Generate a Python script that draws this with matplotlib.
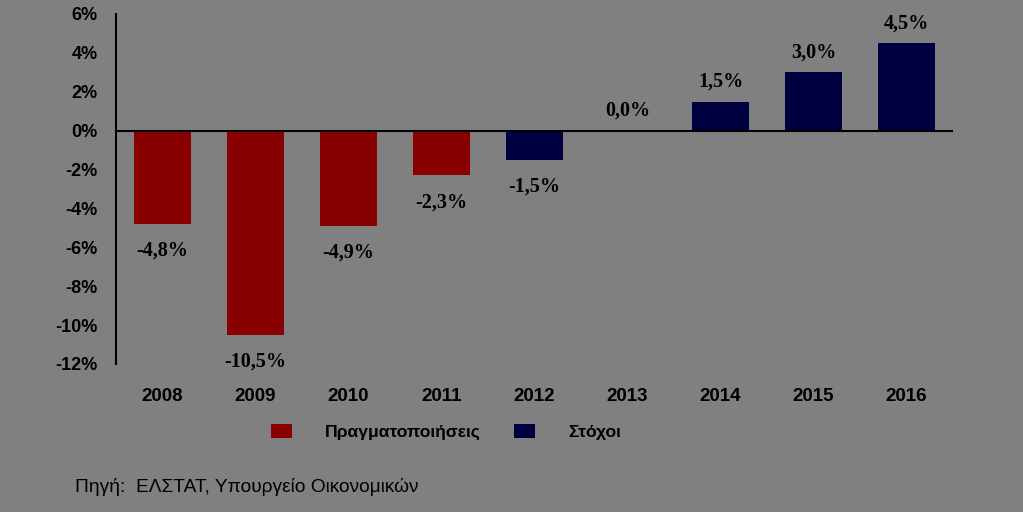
import matplotlib.pyplot as plt
from matplotlib.patches import Patch

years = ['2008', '2009', '2010', '2011', '2012', '2013', '2014', '2015', '2016']
growth = [-4.8, -10.5, -4.9, -2.3, -1.5, 0.0, 1.5, 3.0, 4.5]
kind = ['actual', 'actual', 'actual', 'actual', 'target', 'target', 'target', 'target', 'target']
labels = ['-4,8%', '-10,5%', '-4,9%', '-2,3%', '-1,5%', '0,0%', '1,5%', '3,0%', '4,5%']
legend_names = ['Πραγματοποιήσεις', 'Στόχοι']
yticks = [6, 4, 2, 0, -2, -4, -6, -8, -10, -12]

bg = '#808080'
red = '#880000'
navy = '#000040'
colors = [red if k == 'actual' else navy for k in kind]

fig = plt.figure(figsize=(10.23, 5.12), dpi=100, facecolor=bg)
ax = fig.add_axes([116 / 1023, 148 / 512, 837 / 1023, 350 / 512])
ax.set_facecolor(bg)

x = range(len(years))
ax.bar(x, growth, width=0.62, color=colors)
ax.axhline(0, color='black', lw=1.5)

for i, v in enumerate(growth):
    dy = 20 if v >= 0 else -27
    ax.annotate(labels[i], (i, v), xytext=(0, dy), textcoords='offset pixels',
                ha='center', va='center', fontsize=14.5, fontweight='bold',
                family='Liberation Serif')

ax.set_xlim(-0.5, 8.5)
ax.set_ylim(-12, 6)
ax.set_xticks(list(x))
ax.set_xticklabels(years, fontsize=13.5, fontweight='bold', family='Liberation Sans')
ax.set_yticks(yticks)
ax.set_yticklabels([f'{t}%' for t in yticks], fontsize=13, fontweight='bold',
                   family='Liberation Sans')
ax.tick_params(axis='x', length=0, pad=17.5)
ax.tick_params(axis='y', length=0, pad=13)

for s in ['top', 'right', 'bottom']:
    ax.spines[s].set_visible(False)
ax.spines['left'].set_linewidth(1.5)

handles = [Patch(facecolor=red), Patch(facecolor=navy)]
fig.legend(handles, legend_names, loc='center', bbox_to_anchor=(446 / 1023, 1 - 432 / 512),
           ncol=2, frameon=False, handlelength=1.2, handleheight=0.9, handletextpad=1.9,
           columnspacing=1.9, prop={'family': 'Liberation Sans', 'weight': 'bold', 'size': 12.6})

fig.text(75 / 1023, 1 - 487 / 512, 'Πηγή:  ΕΛΣΤΑΤ, Υπουργείο Οικονομικών',
         fontsize=13.8, family='Liberation Sans', va='center', ha='left')

fig.savefig('out.png', dpi=100, facecolor=bg)
